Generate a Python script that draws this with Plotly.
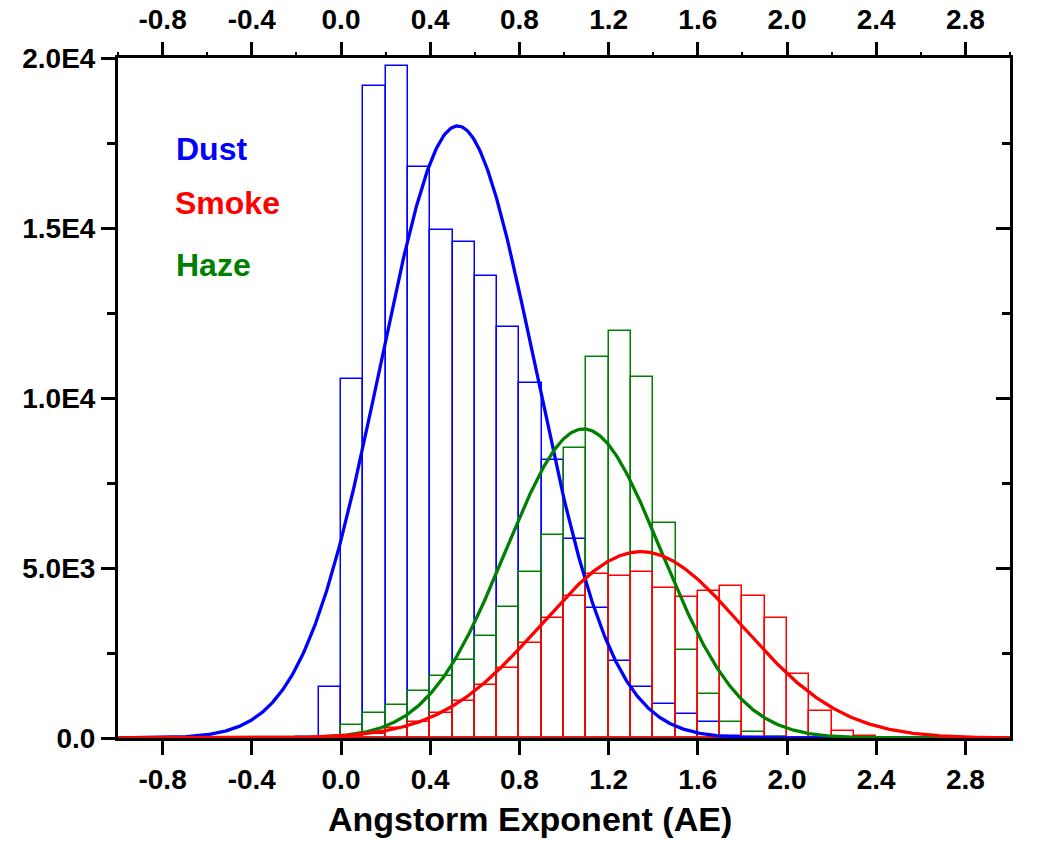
import numpy as np
import plotly.graph_objects as go

# ---- data ----
bin_left = [-0.2, -0.1, 0.0, 0.1, 0.2, 0.3, 0.4, 0.5, 0.6, 0.7, 0.8, 0.9, 1.0,
            1.1, 1.2, 1.3, 1.4, 1.5, 1.6, 1.7, 1.8, 1.9, 2.0, 2.1, 2.2, 2.3, 2.4]
bin_width = 0.1

dust_counts = [40, 1500, 10550, 19170, 19760, 16790, 14950, 14590, 13590, 12090,
               10430, 8170, 5850, 3830, 2270, 1490, 1000, 700, 470, 70, 40, 20,
               0, 0, 0, 0, 0]
haze_counts = [0, 0, 390, 750, 960, 1370, 1810, 2280, 2990, 3860, 4870, 5970,
               8530, 11210, 11980, 10620, 6330, 2600, 1300, 470, 165, 30,
               0, 0, 0, 0, 0]
smoke_counts = [0, 0, 60, 120, 280, 460, 750, 1080, 1570, 2050, 2800, 3540,
                4170, 4810, 4760, 4890, 4420, 4150, 4320, 4470, 4180, 3520,
                1890, 780, 195, 68, 0]

# Gaussian fit parameters: amplitude, centre, sigma
dust_fit = [18000, 0.523, 0.348]
haze_fit = [9090, 1.087, 0.348]
smoke_fit = [5480, 1.345, 0.45]

series_names = ["Dust", "Smoke", "Haze"]
series_colors = ["#0000FF", "#FF0000", "#008000"]

x_tick_vals = [-0.8, -0.4, 0.0, 0.4, 0.8, 1.2, 1.6, 2.0, 2.4, 2.8]
x_tick_text = ["-0.8", "-0.4", "0.0", "0.4", "0.8", "1.2", "1.6", "2.0", "2.4", "2.8"]
y_tick_vals = [0, 5000, 10000, 15000, 20000]
y_tick_text = ["0.0", "5.0E3", "1.0E4", "1.5E4", "2.0E4"]
x_title = "Angstorm Exponent (AE)"

FONT = "Liberation Sans, Arial, sans-serif"

centers = [b + bin_width / 2 for b in bin_left]
xs = np.linspace(-1.0, 3.0, 801)


def gauss(p):
    a, c, s = p
    return a * np.exp(-((xs - c) ** 2) / (2 * s * s))


fig = go.Figure()

for counts, col in [(dust_counts, series_colors[0]),
                    (haze_counts, series_colors[2]),
                    (smoke_counts, series_colors[1])]:
    fig.add_trace(go.Bar(
        x=centers, y=counts, width=bin_width,
        marker=dict(color="rgba(0,0,0,0)", line=dict(color=col, width=1.5)),
        showlegend=False, hoverinfo="skip"))

for p, col in [(dust_fit, series_colors[0]),
               (haze_fit, series_colors[2]),
               (smoke_fit, series_colors[1])]:
    fig.add_trace(go.Scatter(x=xs, y=gauss(p), mode="lines",
                             line=dict(color=col, width=3.3),
                             showlegend=False, hoverinfo="skip"))

# invisible trace to attach the top/right axes
fig.add_trace(go.Scatter(x=[], y=[], xaxis="x2", yaxis="y2",
                         showlegend=False, hoverinfo="skip"))

tickfont = dict(family=FONT, size=28, color="black", weight="bold")

L, R, T, B = 118, 39, 58, 104
W, H = 1049, 842

fig.update_layout(
    width=W, height=H,
    paper_bgcolor="white", plot_bgcolor="white",
    margin=dict(l=L, r=R, t=T, b=B, autoexpand=False),
    barmode="overlay", bargap=0,
    showlegend=False,
    xaxis=dict(range=[-1.0, 3.0], tickvals=x_tick_vals, ticktext=x_tick_text,
               ticks="outside", ticklen=14, tickwidth=2.5, tickcolor="black",
               showline=True, linewidth=3, linecolor="black",
               showgrid=False, zeroline=False, tickfont=tickfont,
               ticklabelstandoff=0),
    xaxis2=dict(range=[-1.0, 3.0], overlaying="x", side="top",
                tickvals=x_tick_vals, ticktext=x_tick_text,
                ticks="outside", ticklen=13, tickwidth=2.5, tickcolor="black",
                minor=dict(dtick=0.2, tick0=-1.0, ticks="outside", ticklen=3,
                           tickwidth=2, tickcolor="black"),
                showline=True, linewidth=3, linecolor="black",
                showgrid=False, zeroline=False, tickfont=tickfont,
                ticklabelstandoff=2),
    yaxis=dict(range=[0, 20000], tickvals=y_tick_vals, ticktext=y_tick_text,
               ticks="outside", ticklen=14, tickwidth=2.5, tickcolor="black",
               minor=dict(dtick=2500, tick0=0, ticks="outside", ticklen=8,
                          tickwidth=2.5, tickcolor="black"),
               showline=True, linewidth=3, linecolor="black",
               showgrid=False, zeroline=False, tickfont=tickfont,
               ticklabelstandoff=0),
    yaxis2=dict(range=[0, 20000], overlaying="y", side="right",
                tickvals=y_tick_vals, showticklabels=False,
                ticks="inside", ticklen=14, tickwidth=2.5, tickcolor="black",
                minor=dict(dtick=2500, tick0=0, ticks="inside", ticklen=8,
                           tickwidth=2.5, tickcolor="black"),
                showline=True, linewidth=3, linecolor="black",
                showgrid=False, zeroline=False),
)

label_pos = [(-0.748, 17320), (-0.755, 15740), (-0.748, 13910)]
for name, col, (lx, ly) in zip(series_names, series_colors, label_pos):
    fig.add_annotation(x=lx, y=ly, xref="x", yref="y", text=f"<b>{name}</b>",
                       showarrow=False, xanchor="left", yanchor="middle",
                       font=dict(family=FONT, size=32, color=col))

# axis title placed at its pixel position (converted to paper coordinates)
fig.add_annotation(x=(530 - L) / (W - L - R), y=(H - B - 819) / (H - T - B),
                   xref="paper", yref="paper",
                   text=f"<b>{x_title}</b>", showarrow=False,
                   xanchor="center", yanchor="middle",
                   font=dict(family=FONT, size=34, color="black"))

fig.write_html("out.html", post_script="document.body.style.margin='0';",
               config={"displayModeBar": False})
